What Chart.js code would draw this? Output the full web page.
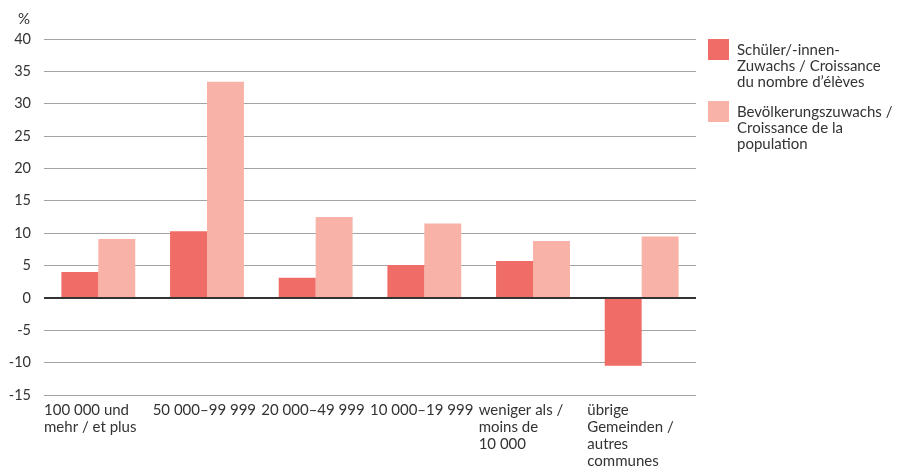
<!DOCTYPE html>
<html>
<head>
<meta charset="utf-8">
<script src="https://cdn.jsdelivr.net/npm/chart.js@4.4.0/dist/chart.umd.min.js"></script>
<style>
  html, body { margin: 0; padding: 0; background: #fff; }
  #wrap { width: 909px; height: 470px; position: relative; }
</style>
</head>
<body>
<div id="wrap"><canvas id="chart" width="909" height="470"></canvas></div>
<script>
// categories (one line per entry)
const categories = [
  ['100 000 und', 'mehr / et plus'],
  ['50 000–99 999'],
  ['20 000–49 999'],
  ['10 000–19 999'],
  ['weniger als /', 'moins de', '10 000'],
  ['übrige', 'Gemeinden /', 'autres', 'communes']
];
const pupilGrowth = [4.0, 10.3, 3.1, 5.1, 5.7, -10.5];
const populationGrowth = [9.1, 33.4, 12.5, 11.5, 8.8, 9.5];
const pupilLabel = ['Schüler/-innen-', 'Zuwachs / Croissance', 'du nombre d’élèves'];
const populationLabel = ['Bevölkerungszuwachs /', 'Croissance de la', 'population'];
const yTicks = [-15, -10, -5, 0, 5, 10, 15, 20, 25, 30, 35, 40];

const FONT = 'Lato, "Open Sans", sans-serif';
const TEXT = '#333333';

const labelsPlugin = {
  id: 'labelsPlugin',
  afterDraw(chart) {
    const ctx = chart.ctx;
    const x = chart.scales.x;
    const y = chart.scales.y;
    ctx.save();
    ctx.fillStyle = TEXT;
    ctx.font = '15px ' + FONT;
    ctx.textBaseline = 'middle';

    // unit
    ctx.textAlign = 'left';
    ctx.fillText('%', 18, 19);

    // category labels, left aligned in each band
    const band = x.width / categories.length;
    categories.forEach((lines, i) => {
      const left = x.getPixelForValue(i) - band / 2;
      lines.forEach((t, j) => ctx.fillText(t, left, y.bottom + 15 + j * 17));
    });

    // legend
    const items = [
      { color: chart.data.datasets[0].backgroundColor, lines: pupilLabel, top: 39 },
      { color: chart.data.datasets[1].backgroundColor, lines: populationLabel, top: 101 }
    ];
    items.forEach(it => {
      ctx.fillStyle = it.color;
      ctx.fillRect(708, it.top, 21, 21);
      ctx.fillStyle = TEXT;
      it.lines.forEach((t, j) => ctx.fillText(t, 737, it.top + 11 + j * 16));
    });
    ctx.restore();
  }
};

new Chart(document.getElementById('chart'), {
  type: 'bar',
  data: {
    labels: categories.map(c => c.join(' ')),
    datasets: [
      { label: pupilLabel.join(' '), data: pupilGrowth, backgroundColor: '#f06c67' },
      { label: populationLabel.join(' '), data: populationGrowth, backgroundColor: '#f9b2a7' }
    ]
  },
  options: {
    responsive: false,
    animation: false,
    layout: { padding: { top: 39, right: 213, bottom: 0, left: 0 } },
    datasets: { bar: { categoryPercentage: 0.68, barPercentage: 1 } },
    plugins: { legend: { display: false }, tooltip: { enabled: false } },
    scales: {
      x: {
        grid: { display: false },
        border: { display: false },
        ticks: { display: false },
        afterFit: s => { s.height = 75; }
      },
      y: {
        min: -15,
        max: 40,
        afterBuildTicks: s => { s.ticks = yTicks.map(v => ({ value: v })); },
        afterFit: s => { s.width = 44; },
        border: { display: false },
        grid: {
          drawTicks: false,
          color: c => c.tick && c.tick.value === 0 ? '#333333' : '#a3a3a3',
          lineWidth: c => c.tick && c.tick.value === 0 ? 2 : 1
        },
        ticks: {
          padding: 13,
          color: TEXT,
          font: { family: FONT, size: 14.5 }
        }
      }
    }
  },
  plugins: [labelsPlugin]
});
</script>
</body>
</html>
